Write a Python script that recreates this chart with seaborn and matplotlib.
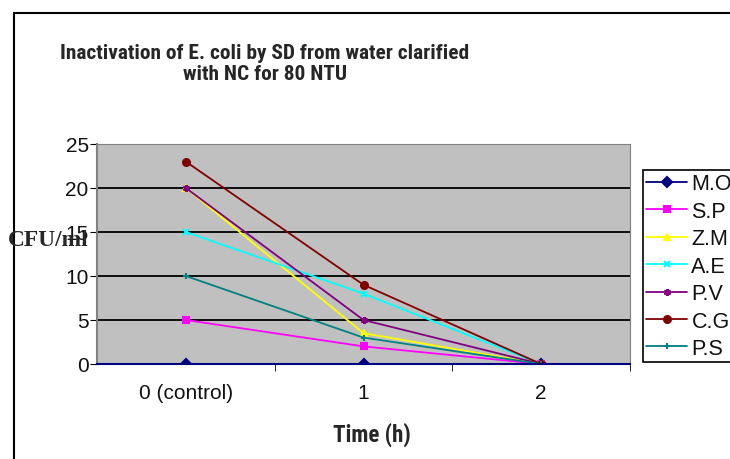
import numpy as np
import pandas as pd
import seaborn as sns
import matplotlib.pyplot as plt
from matplotlib import font_manager
from matplotlib.patches import Rectangle
from matplotlib.ticker import FixedLocator

times = [0, 1, 2]
time_labels = ["0 (control)", "1", "2"]

# CFU/ml
samples = ["M.O", "S.P", "Z.M", "A.E", "P.V", "C.G", "P.S"]
m_o = [0, 0, 0]
s_p = [5, 2, 0]
z_m = [20, 3.5, 0]
a_e = [15, 8, 0]
p_v = [20, 5, 0]
c_g = [23, 9, 0]
p_s = [10, 3, 0]
series = [m_o, s_p, z_m, a_e, p_v, c_g, p_s]

colors = ["#000080", "#FF00FF", "#FFFF00", "#00FFFF", "#800080", "#800000", "#008080"]
markers = ["D", "s", "^", "x", (6, 2, 0), "o", "+"]

sns.set_style("white")
plt.rcParams["font.family"] = ["Liberation Sans", "DejaVu Sans"]

# title font in the original is a narrow bold face, use one if it's there
names = {f.name for f in font_manager.fontManager.ttflist}
narrow = "Liberation Sans"
for cand in ["Liberation Sans Narrow", "DejaVu Sans Condensed", "Roboto Condensed"]:
    if cand in names:
        narrow = cand
        break

fig = plt.figure(figsize=(7.3, 4.6), dpi=100)
ax = fig.add_axes([97 / 730, 1 - 365 / 460, 533 / 730, 220 / 460])
ax.set_facecolor("#C0C0C0")

# one call per series since filled and line markers can't be mixed in one style map
for name, vals, c, m in zip(samples, series, colors, markers):
    d = pd.DataFrame({"time": times, "cfu": vals})
    sns.lineplot(data=d, x="time", y="cfu", color=c, marker=m, linewidth=1.3,
                 markersize=6.5, markeredgewidth=1.5, markeredgecolor=c, label=name, ax=ax)

ax.set_xlim(-0.5, 2.5)
ax.set_ylim(0, 25)
ax.set_yticks([0, 5, 10, 15, 20, 25])
ax.yaxis.grid(True, color="black", linewidth=1.3)
ax.set_axisbelow(True)
ax.set_xticks(times)
ax.set_xticklabels(time_labels)
ax.xaxis.set_minor_locator(FixedLocator([0.5, 1.5, 2.5]))
ax.tick_params(axis="x", which="major", length=0, pad=13.5, labelsize=15, labelcolor="#111111")
ax.tick_params(axis="x", which="minor", length=5, direction="out", color="black", bottom=True)
ax.tick_params(axis="y", length=5, direction="out", color="black", left=True, labelsize=15,
               pad=1, labelcolor="#111111")
for s in ["top", "right"]:
    ax.spines[s].set_color("#808080")
ax.spines["left"].set_color("#808080")
ax.spines["left"].set_linewidth(1.5)
ax.spines["bottom"].set_color("#000080")
ax.spines["bottom"].set_linewidth(1.5)

ax.set_ylabel("")
ax.set_xlabel("")

renderer = fig.canvas.get_renderer()


def fit_text(x, y, s, width_px, **kw):
    t = fig.text(x, y, s, fontsize=12, **kw)
    w = t.get_window_extent(renderer).width
    t.set_fontsize(12 * width_px / w)
    return t


fit_text(265 / 730, 1 - 64 / 460,
         "Inactivation of E. coli by SD from water clarified\nwith NC for 80 NTU", 410,
         family=[narrow, "DejaVu Sans"], fontweight="bold", ha="center", va="center",
         linespacing=1.1)
fit_text(372 / 730, 1 - 435 / 460, "Time (h)", 78,
         family=[narrow, "DejaVu Sans"], fontweight="bold", ha="center", va="center")
fit_text(48 / 730, 1 - 241 / 460, "CFU/ml", 80,
         family=["Liberation Serif", "DejaVu Serif"], fontweight="bold", ha="center", va="center")

handles, labels = ax.get_legend_handles_labels()
for h in handles:
    h.set_markersize(5)
ax.legend(handles, labels, loc="upper left", bbox_to_anchor=(643 / 730, 1 - 171 / 460),
          bbox_transform=fig.transFigure, frameon=True, fancybox=False, edgecolor="black",
          fontsize=15.5, labelspacing=0.3, handlelength=1.9, handletextpad=0.2,
          borderpad=0.15, borderaxespad=0, framealpha=1, labelcolor="#111111")
ax.get_legend().get_frame().set_linewidth(1.2)

fig.patches.append(Rectangle((14 / 730, -0.2), 2, 1 - 14 / 460 + 0.2, transform=fig.transFigure,
                             fill=False, edgecolor="black", linewidth=1.5))

fig.savefig("out.png", dpi=100)
